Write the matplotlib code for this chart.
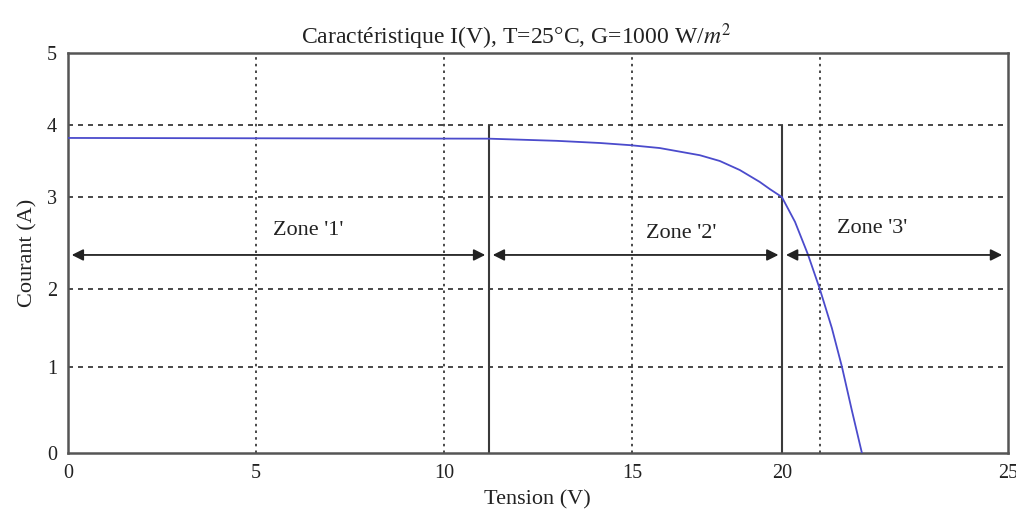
import numpy as np
import matplotlib
matplotlib.use("Agg")
import matplotlib.pyplot as plt
import matplotlib.transforms as mtransforms

plt.rcParams['font.family'] = ['Liberation Serif', 'DejaVu Serif']
plt.rcParams['mathtext.fontset'] = 'stix'

# I(V) curve
tension = [0, 11.2, 13.0, 14.15, 14.95, 15.74, 16.81, 17.34, 17.87, 18.40,
           18.67, 18.99, 19.34, 19.68, 20.0, 20.32, 20.59, 20.85, 21.12]
courant = [3.82, 3.81, 3.78, 3.75, 3.72, 3.68, 3.58, 3.50, 3.375, 3.21,
           3.11, 3.0, 2.73, 2.38, 2.0, 1.5, 1.0, 0.5, 0.0]

# zone borders (solid vertical lines) and arrows
zone_limits = [11.2, 19.0]
zone_names = ["Zone '1'", "Zone '2'", "Zone '3'"]
arrow_start = [0.1, 11.3, 19.1]
arrow_end = [11.1, 18.9, 24.85]
arrow_y = 2.37
label_x = [6.4, 16.3, 21.4]
label_y = [2.64, 2.60, 2.66]

xticks = [0, 5, 10, 15, 20, 25]
xtick_labels = ['0', '5', '10', '15', '', '25']
label20_x = 19.0   # the "20" label sits under the zone border in the picture
yticks = [0, 1, 2, 3, 4, 5]
# uneven spacing of the y grid in the picture (pixels above the x axis)
ytick_pix = [0, 86, 164, 256, 328, 400]


def fwd(y):
    return np.interp(y, yticks, ytick_pix)


def inv(v):
    return np.interp(v, ytick_pix, yticks)


fig = plt.figure(figsize=(10.16, 5.11), dpi=100)
ax = fig.add_axes([0.0669, 0.1135, 0.925, 0.7828])
ax.set_yscale('function', functions=(fwd, inv))

ax.plot(tension, courant, color='#4b4bcc', lw=1.3, zorder=3)

ax.vlines(zone_limits, 0, 4, color='#3a3a3a', lw=1.5, zorder=2)

for x0, x1 in zip(arrow_start, arrow_end):
    ax.annotate('', xy=(x1, arrow_y), xytext=(x0, arrow_y),
                arrowprops=dict(arrowstyle='<|-|>', color='#222222', lw=1.3,
                                mutation_scale=17, shrinkA=0, shrinkB=0))

for name, lx, ly in zip(zone_names, label_x, label_y):
    ax.text(lx, ly, name, ha='center', va='center', fontsize=16, color='#222222')

ax.set_xlim(0, 25)
ax.set_ylim(0, 5)
ax.set_xticks(xticks)
ax.set_xticklabels(xtick_labels)
ax.set_yticks(yticks)
ax.set_yticklabels([str(v) for v in yticks])

trans = mtransforms.blended_transform_factory(ax.transData, ax.transAxes)
ax.text(label20_x, -0.027, '20', transform=trans, ha='center', va='top',
        fontsize=14.5, color='#222222')

for x in xticks[1:-1]:
    ax.axvline(x, color='#2a2a2a', lw=1.2, ls=(0, (1.5, 2.5)), zorder=1)
for y in yticks[1:-1]:
    ax.axhline(y, color='#2a2a2a', lw=1.2, ls=(0, (3, 3)), zorder=1)

ax.tick_params(direction='in', length=0, labelsize=14.5, colors='#222222', pad=8)
for s in ax.spines.values():
    s.set_color('#555555')
    s.set_linewidth(1.8)

ax.set_xlabel('Tension (V)', fontsize=16, color='#222222', labelpad=5)
ax.set_ylabel('Courant (A)', fontsize=16, color='#222222', labelpad=7)
ax.set_title(r'Caractéristique I(V), T=25°C, G=1000 W/$m^2$', fontsize=17,
             color='#222222', pad=6, x=0.477)

fig.savefig('out.png', dpi=100)
